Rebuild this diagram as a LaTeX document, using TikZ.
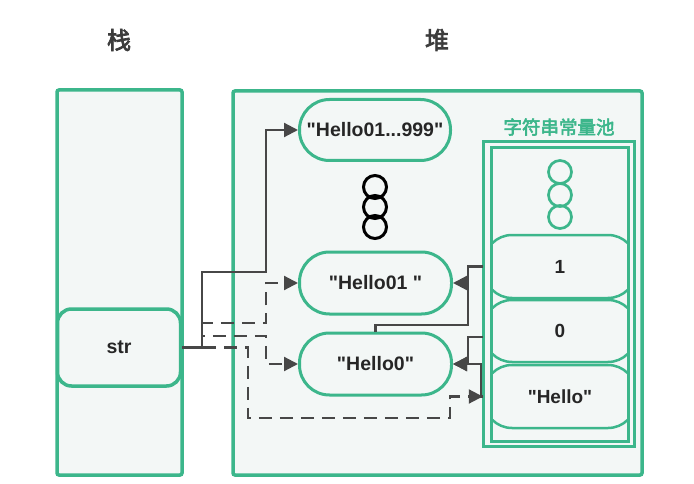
\documentclass[tikz,border=0pt]{standalone}
\usepackage{fontspec}
\setmainfont{Liberation Sans}[Ligatures=TeXOff]
\newfontfamily\cjk[AutoFakeBold=3]{Noto Sans CJK SC}
\usetikzlibrary{arrows.meta}
\definecolor{grn}{HTML}{3CB68B}
\definecolor{bgf}{HTML}{F3F7F6}
\definecolor{lin}{HTML}{474747}
\definecolor{txt}{HTML}{262626}
\tikzset{
  panel/.style={draw=grn, line width=3.5pt, fill=bgf, rounded corners=2pt, inner sep=0pt},
  pill/.style={draw=grn, line width=3pt, fill=bgf, rounded corners=30pt, minimum width=152pt, minimum height=62pt, inner sep=0pt, text=txt, font=\fontsize{19.5}{22}\selectfont\bfseries},
  poolnode/.style={draw=grn, line width=2.5pt, rounded corners=28pt, minimum width=152pt, inner sep=0pt, text=txt, font=\fontsize{19}{22}\selectfont\bfseries},
  dot/.style={circle, draw=black, line width=3pt, minimum size=23pt, inner sep=0pt},
  gdot/.style={circle, draw=grn, line width=2.7pt, minimum size=23pt, inner sep=0pt},
  conn/.style={draw=lin, line width=2.2pt, -{Triangle[length=14pt,width=14pt]}},
  plain/.style={draw=lin, line width=2.2pt},
  dconn/.style={conn, dash pattern=on 13pt off 8pt},
  heading/.style={text=txt!90, font=\cjk\fontsize{24}{26}\selectfont\bfseries}
}
\begin{document}
\begin{tikzpicture}[x=1pt,y=-1pt]
\useasboundingbox (0,0) rectangle (694,484);
\fill[white] (0,0) rectangle (694,484);
% headings
\node[heading] (tstack) at (119,40) {栈};
\node[heading] (theap) at (437,40) {堆};
% panels
\node[panel, minimum width=125pt, minimum height=385pt] (stack) at (119.5,282.5) {};
\node[panel, minimum width=409pt, minimum height=384pt] (heap) at (437.5,283) {};
% str
\node[panel, rounded corners=14pt, minimum width=123pt, minimum height=77pt, text=txt, font=\fontsize{19.5}{22}\selectfont\bfseries] (str) at (119,347.5) {str};
% heap nodes
\node[pill, minimum width=151pt, minimum height=61pt] (h999) at (375,130) {"Hello01...999"};
\node[dot] (c1) at (375,187) {};
\node[dot] (c2) at (375,207) {};
\node[dot] (c3) at (375,227) {};
\node[pill] (h01) at (375.5,283) {"Hello01 "};
\node[pill] (h0) at (375.5,364) {"Hello0"};
% pool
\node[text=grn, font=\cjk\fontsize{18.5}{20}\selectfont\bfseries] (ptitle) at (559,127) {字符串常量池};
\node[draw=grn, line width=3pt, fill=bgf, minimum width=151pt, minimum height=304pt, inner sep=0pt] (pouter) at (558.5,294) {};
\node[draw=grn, line width=3pt, fill=bgf, minimum width=137pt, minimum height=293pt, inner sep=0pt] (pinner) at (559.5,294.5) {};
\node[gdot] (g1) at (560,172) {};
\node[gdot] (g2) at (560,195) {};
\node[gdot] (g3) at (560,217) {};
\begin{scope}
\clip (491,148) rectangle (628,441);
\node[poolnode, minimum height=63pt] (p1) at (560,266.5) {1};
\node[poolnode, minimum height=62pt] (p0) at (560,331) {0};
\node[poolnode, minimum height=63pt] (ph) at (560,396.5) {"Hello"};
\end{scope}
% connectors
\draw[conn] (str.east) -| (202,272) -| (266,130) -- (h999.west);
\draw[dconn] (str.east) -| (202,323) -| (266,283) -- (h01.west);
\draw[dconn] (str.east) -| (202,336) -| (266,364) -- (h0.west);
\draw[dconn] (str.east) -| (248,418) -| (450,396.5) -- (ph.west);
\draw[conn] (p1.west) -| (468,283) -- (h01.east);
\draw[plain] (h0.north) |- (468,325) -- (468,283);
\draw[conn] ([yshift=-6pt]p0.west) -| (468,364) -- (h0.east);
\draw[conn] (ph.west) -- ++(-2,0) |- (h0.east);
\end{tikzpicture}
\end{document}
